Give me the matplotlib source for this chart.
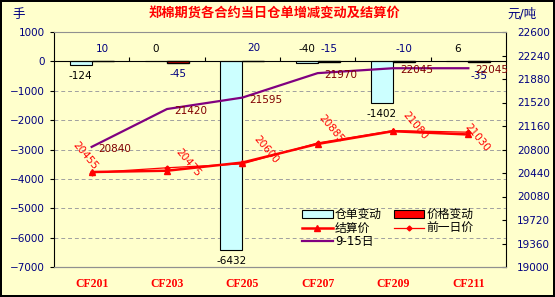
import numpy as np
import matplotlib
matplotlib.use("Agg")
import matplotlib.pyplot as plt
from matplotlib.patches import Patch
from matplotlib.lines import Line2D

plt.rcParams['font.family'] = ['DejaVu Sans', 'Noto Sans CJK SC']

# data
contracts = ["CF201", "CF203", "CF205", "CF207", "CF209", "CF211"]
warrant_chg = [-124, 0, -6432, -40, -1402, 6]
price_chg = [10, -45, 20, -15, -10, -35]
settle = [20455, 20475, 20600, 20885, 21080, 21030]
prev_day = [20445, 20520, 20580, 20900, 21090, 21065]
sep15 = [20840, 21420, 21595, 21970, 22045, 22045]

# label placement (not data)
warrant_pos = ["below", "above", "below", "above", "below", "above"]
price_pos = ["above", "below", "above", "above", "above", "below"]
settle_off = [(-5, 12), (15, 6), (17, 9), (10, 11), (16, 4), (6.5, -2)]

bg = "#FFFFCC"
navy = "#000080"

fig = plt.figure(figsize=(5.55, 2.97), dpi=100)
fig.patch.set_facecolor(bg)
fig.patch.set_edgecolor("black")
fig.patch.set_linewidth(1.5)

ax = fig.add_axes([54 / 555, 30 / 297, 452 / 555, 235 / 297])
ax.set_facecolor(bg)
x = np.arange(len(contracts))
w = 0.294

ax.bar(x - w / 2, warrant_chg, w, color="#CCFFFF", edgecolor="black", lw=0.8, zorder=2)
ax.bar(x + w / 2, price_chg, w, color="#FF0000", edgecolor="black", lw=1.0, zorder=2)

ax.set_xlim(-0.5, len(contracts) - 0.5)
ax.set_ylim(-7000, 1000)
ax.set_yticks(np.arange(-7000, 1001, 1000))
ax.tick_params(axis="y", colors="black", labelcolor=navy, labelsize=7.5, length=3, direction="out")
ax.yaxis.grid(True, linestyle=(0, (4, 3)), color="#A0A0A0", lw=0.7)
ax.set_axisbelow(True)

ax.spines["bottom"].set_position(("data", 0))
ax.spines["bottom"].set_color("black")
ax.spines["top"].set_visible(False)
ax.spines["right"].set_visible(False)
ax.set_xticks(np.arange(0.5, len(contracts) - 1, 1))
ax.set_xticklabels([])
ax.tick_params(axis="x", direction="in", length=3)

sec = ax.secondary_xaxis(0)
sec.set_xticks(x)
sec.set_xticklabels(contracts, color="red", fontweight="bold", family="Liberation Serif", fontsize=8.5)
sec.tick_params(length=0, pad=8)
sec.spines["bottom"].set_color("#909090")

for i, v in enumerate(warrant_chg):
    if warrant_pos[i] == "above":
        ax.annotate(str(v), (x[i] - w / 2, max(v, 0)), xytext=(0, 9), textcoords="offset points",
                    ha="center", va="center", fontsize=7.5, color="black")
    else:
        ax.annotate(str(v), (x[i] - w / 2, v), xytext=(0, -8), textcoords="offset points",
                    ha="center", va="center", fontsize=7.5, color="black")
for i, v in enumerate(price_chg):
    dy = -10 if i == len(price_chg) - 1 else -8
    if price_pos[i] == "above":
        ax.annotate(str(v), (x[i] + w / 2, max(v, 0)), xytext=(0, 9), textcoords="offset points",
                    ha="center", va="center", fontsize=7.5, color=navy)
    else:
        ax.annotate(str(v), (x[i] + w / 2, v), xytext=(0, dy), textcoords="offset points",
                    ha="center", va="center", fontsize=7.5, color=navy)

ax2 = ax.twinx()
ax2.set_ylim(19000, 22600)
ax2.set_yticks(np.arange(19000, 22601, 360))
ax2.tick_params(axis="y", labelcolor=navy, labelsize=7.5, length=3, direction="in", pad=8)
ax2.spines["left"].set_visible(False)
ax2.spines["right"].set_color("black")
ax2.spines["top"].set_color("#909090")
ax2.spines["bottom"].set_color("#909090")

ax2.plot(x, sep15, color="#800080", lw=1.6, zorder=3)
ax2.plot(x, prev_day, color="#FF0000", lw=0.9, marker="D", ms=2.5, zorder=4)
ax2.plot(x, settle, color="#FF0000", lw=1.8, marker="^", ms=5, zorder=5)

for i, v in enumerate(sep15):
    ax2.annotate(str(v), (x[i], v), xytext=(5, -1.5), textcoords="offset points",
                 ha="left", va="center", fontsize=7.5, color="#800000")
for i, v in enumerate(settle):
    ax2.annotate(str(v), (x[i], v), xytext=settle_off[i], textcoords="offset points",
                 ha="center", va="center", fontsize=7.5, color="red", rotation=-50)

handles = [
    Patch(facecolor="#CCFFFF", edgecolor="black", lw=0.8),
    Line2D([], [], color="#FF0000", lw=1.8, marker="^", ms=5),
    Line2D([], [], color="#800080", lw=1.6),
    Patch(facecolor="#FF0000", edgecolor="black", lw=0.8),
    Line2D([], [], color="#FF0000", lw=0.9, marker="D", ms=2.5),
]
labels = ["仓单变动", "结算价", "9-15日", "价格变动", "前一日价"]
ax2.legend(handles, labels, loc="upper left", bbox_to_anchor=(0.53, 0.285), ncol=2,
           frameon=False, fontsize=8.5, handlelength=2.6, handleheight=0.7,
           labelspacing=0.05, columnspacing=1.0, handletextpad=0.2, borderpad=0.2)

fig.text(0.495, 0.952, "郑棉期货各合约当日仓单增减变动及结算价", color="red",
         fontweight="bold", fontsize=9.5, ha="center", va="center")
fig.text(0.022, 0.952, "手", color=navy, fontsize=9, ha="left", va="center")
fig.text(0.94, 0.952, "元/吨", color=navy, fontsize=9, ha="center", va="center")

fig.savefig("out.png", dpi=100, facecolor=fig.get_facecolor(), edgecolor=fig.get_edgecolor())
